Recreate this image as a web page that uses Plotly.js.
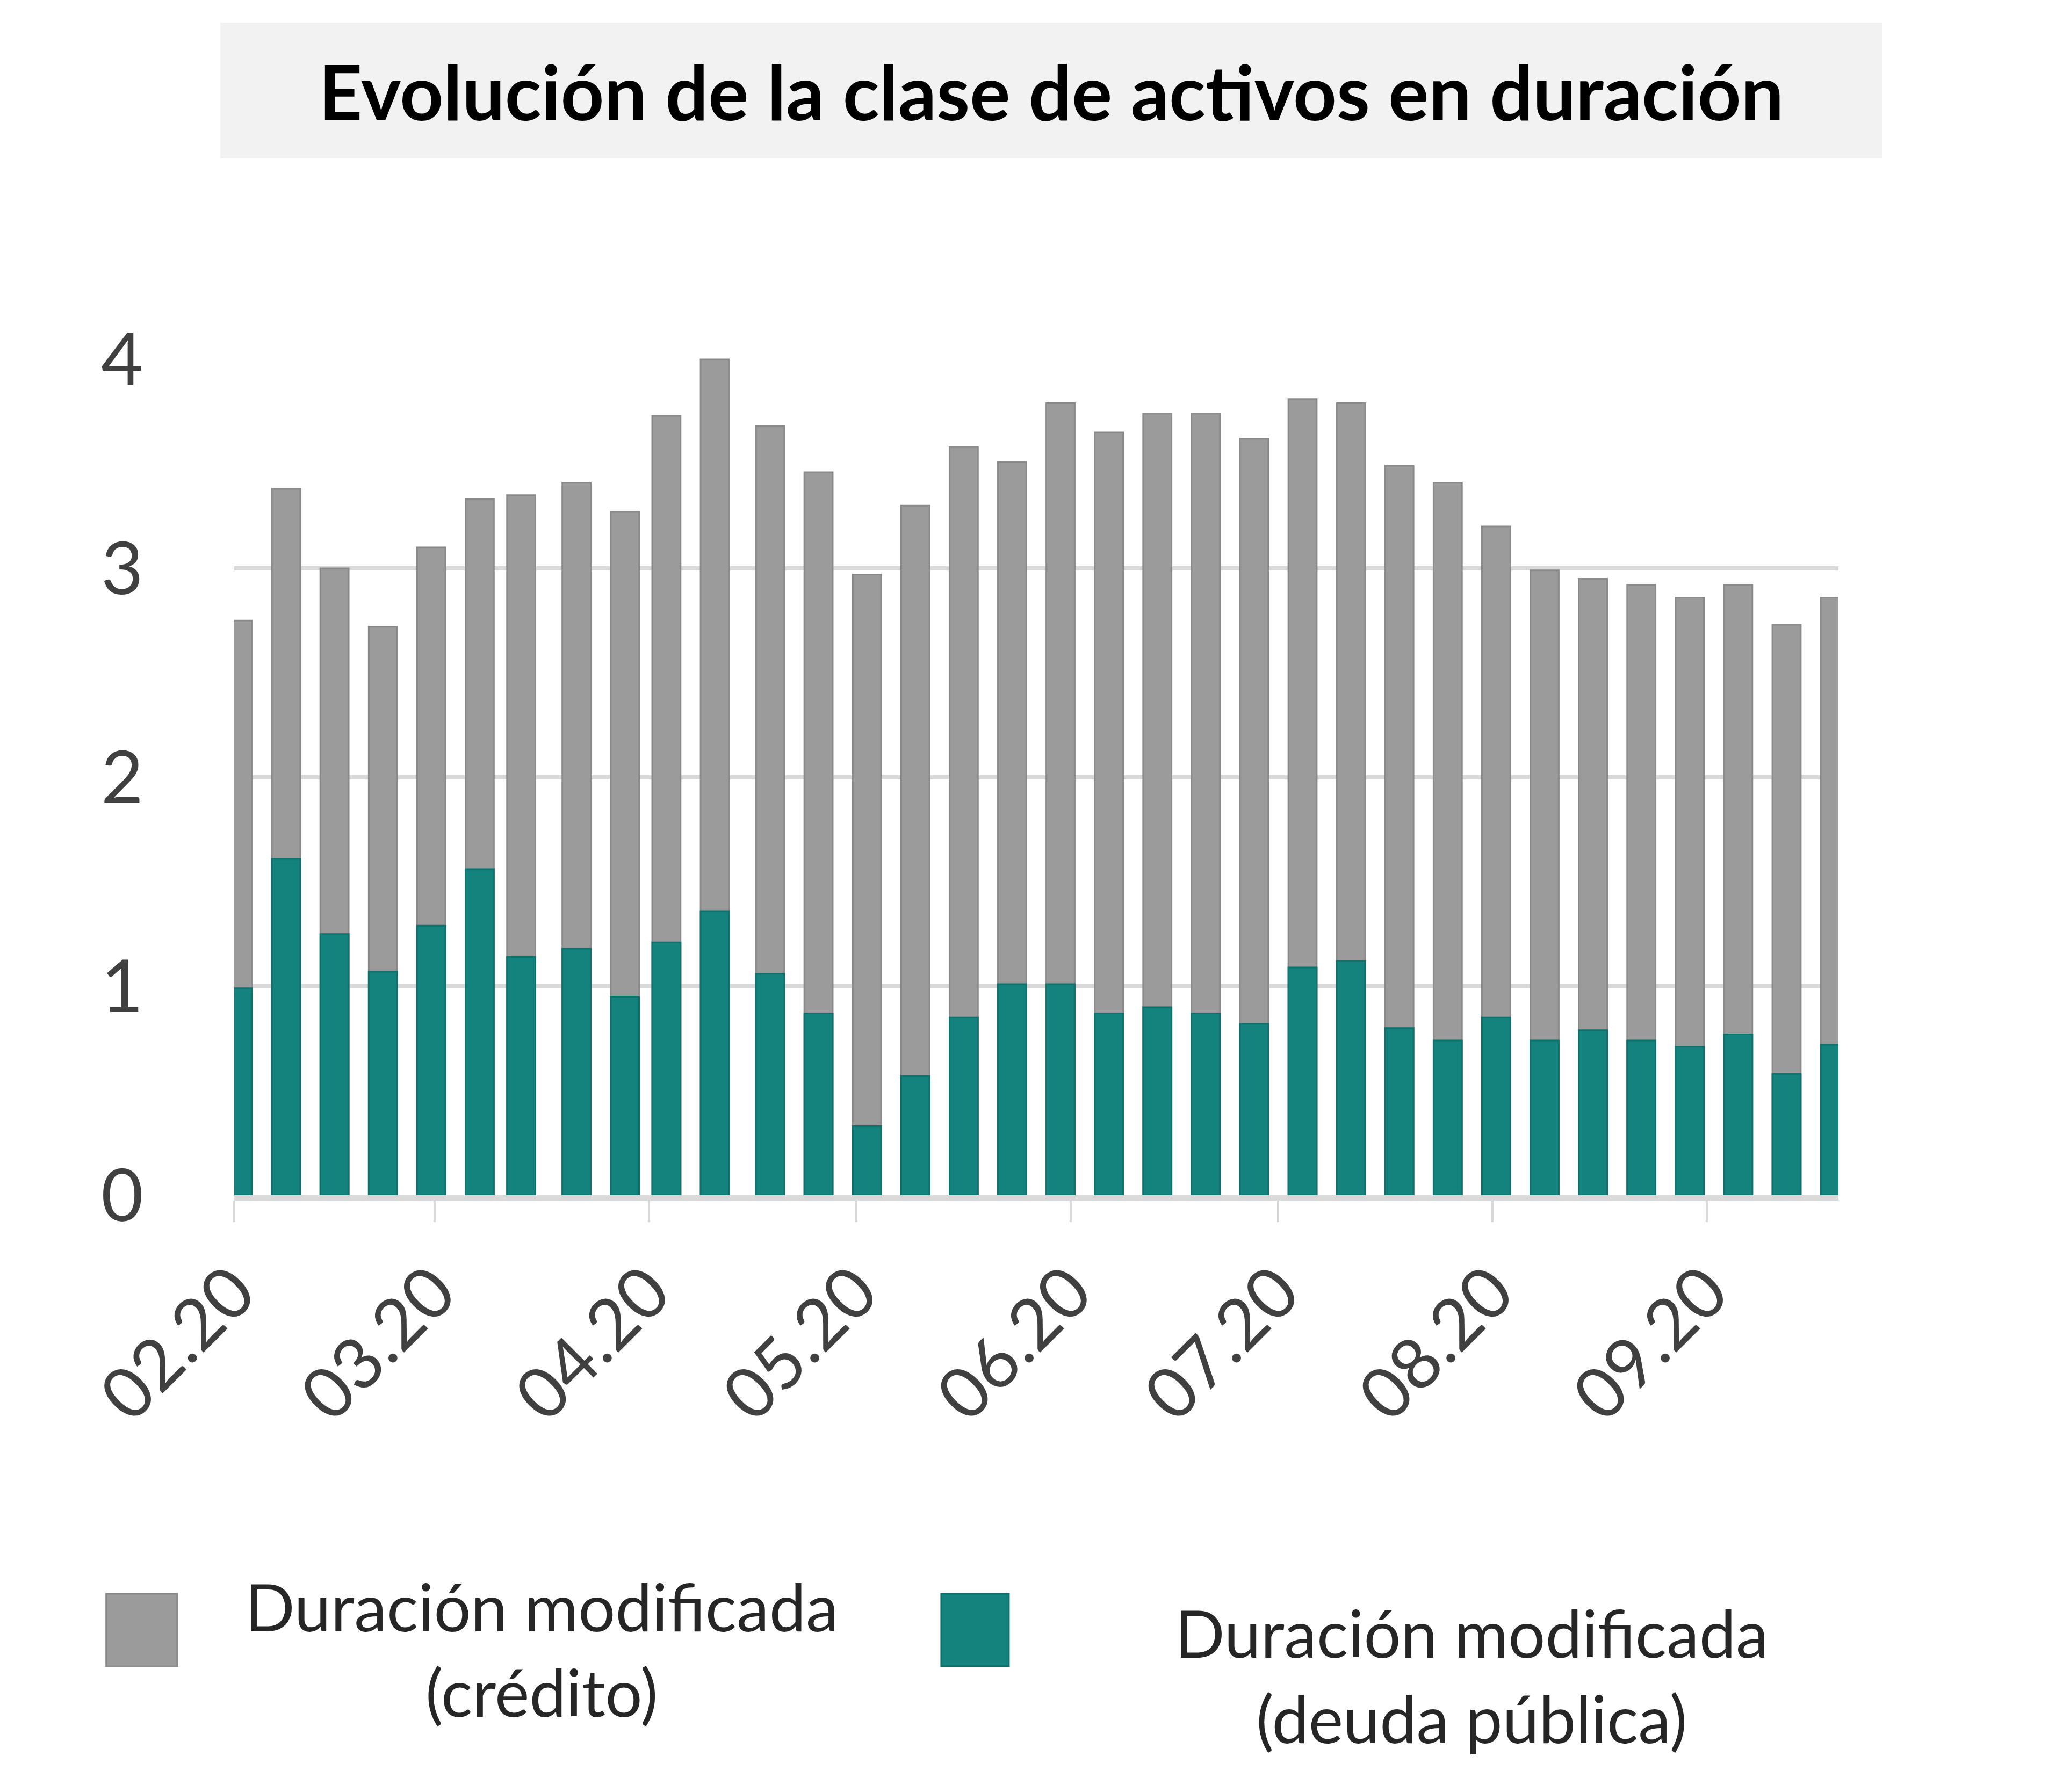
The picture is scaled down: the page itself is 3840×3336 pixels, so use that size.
<!DOCTYPE html>
<html>
<head>
<meta charset="utf-8">
<script src="https://cdn.plot.ly/plotly-3.0.1.min.js"></script>
<style>
  html, body { margin: 0; padding: 0; background: #ffffff; }
  #chart { width: 3840px; height: 3336px; }
</style>
</head>
<body>
<div id="chart"></div>
<script>
// ---- Data ----
const dates = [
  '2020-02-01', '2020-02-08', '2020-02-15', '2020-02-22', '2020-02-29',
  '2020-03-07', '2020-03-13', '2020-03-21', '2020-03-28', '2020-04-03',
  '2020-04-10', '2020-04-18', '2020-04-25', '2020-05-02', '2020-05-09',
  '2020-05-16', '2020-05-23', '2020-05-30', '2020-06-06', '2020-06-13',
  '2020-06-20', '2020-06-27', '2020-07-04', '2020-07-11', '2020-07-18',
  '2020-07-25', '2020-08-01', '2020-08-08', '2020-08-15', '2020-08-22',
  '2020-08-29', '2020-09-05', '2020-09-12', '2020-09-19'
];
const creditDuration = [
  2.75, 3.38, 3.00, 2.72, 3.10, 3.33, 3.35, 3.41, 3.27, 3.73,
  4.00, 3.68, 3.46, 2.97, 3.30, 3.58, 3.51, 3.79, 3.65, 3.74,
  3.74, 3.62, 3.81, 3.79, 3.49, 3.41, 3.20, 2.99, 2.95, 2.92,
  2.86, 2.92, 2.73, 2.86
];
const publicDebtDuration = [
  0.99, 1.61, 1.25, 1.07, 1.29, 1.56, 1.14, 1.18, 0.95, 1.21,
  1.36, 1.06, 0.87, 0.33, 0.57, 0.85, 1.01, 1.01, 0.87, 0.90,
  0.87, 0.82, 1.09, 1.12, 0.80, 0.74, 0.85, 0.74, 0.79, 0.74,
  0.71, 0.77, 0.58, 0.72
];
const seriesNames = [
  'Duración modificada<br>(crédito)',
  'Duración modificada<br>(deuda pública)'
];
const titleText = 'Evolución de la clase de activos en duración';
const yTickValues = [0, 1, 2, 3, 4];
const yGridValues = [1, 2, 3];
const xRange = ['2020-02-01', '2020-09-20'];

// ---- Styles ----
const GRAY = '#9b9b9b', GRAY_EDGE = '#8a8a8a';
const TEAL = '#14827d', TEAL_EDGE = '#0f716c';
const FONT = 'Lato, "Open Sans", sans-serif';
const DAY = 86400000;
const BAR_WIDTH = 4.1 * DAY;

const traces = [
  {
    type: 'bar', name: seriesNames[0], x: dates, y: creditDuration,
    xperiod: DAY, xperiodalignment: 'middle',
    width: BAR_WIDTH,
    marker: { color: GRAY, line: { color: GRAY_EDGE, width: 3 } },
    hoverinfo: 'x+y'
  },
  {
    type: 'bar', name: seriesNames[1], x: dates, y: publicDebtDuration,
    xperiod: DAY, xperiodalignment: 'middle',
    width: BAR_WIDTH,
    marker: { color: TEAL, line: { color: TEAL_EDGE, width: 3 } },
    hoverinfo: 'x+y'
  }
];

const layout = {
  width: 3840, height: 3336,
  paper_bgcolor: '#ffffff', plot_bgcolor: '#ffffff',
  margin: { l: 436, r: 418, t: 630, b: 1111, pad: 0 },
  barmode: 'overlay',
  showlegend: false,
  font: { family: FONT, color: '#404040' },
  title: {
    text: titleText,
    xref: 'container', x: 0.5096, xanchor: 'center',
    yref: 'container', y: 0.9475, yanchor: 'middle',
    font: { family: FONT, size: 141, color: '#000000', weight: 700 }
  },
  xaxis: {
    type: 'date', range: xRange,
    tickmode: 'linear', tick0: '2020-02-01', dtick: 'M1',
    tickformat: '%m.%y', tickangle: -45,
    ticks: 'outside', ticklen: 40, tickwidth: 4, tickcolor: '#d9d9d9',
    showline: true, linecolor: '#d9d9d9', linewidth: 10,
    showgrid: false, zeroline: false,
    tickfont: { family: FONT, size: 132, color: '#404040' },
    automargin: false, fixedrange: true
  },
  yaxis: {
    range: [0, 4.1],
    tickmode: 'array', tickvals: yTickValues,
    showgrid: false, zeroline: false, showline: false, ticks: '',
    ticklabelstandoff: 168,
    tickfont: { family: FONT, size: 136, color: '#404040' },
    minor: { tickmode: 'array', tickvals: yGridValues, showgrid: true,
             gridcolor: '#d9d9d9', gridwidth: 8, ticks: '' },
    automargin: false, fixedrange: true
  },
  shapes: [
    // title background box
    { type: 'rect', xref: 'paper', yref: 'paper', layer: 'below',
      x0: -0.0087, x1: 1.0275, y0: 1.2100, y1: 1.3687,
      fillcolor: '#f2f2f2', line: { width: 0 } },
    // legend swatches
    { type: 'rect', xref: 'paper', yref: 'paper',
      x0: -0.0798, x1: -0.0356, y0: -0.5498, y1: -0.4652,
      fillcolor: GRAY, line: { color: GRAY_EDGE, width: 3 } },
    { type: 'rect', xref: 'paper', yref: 'paper',
      x0: 0.4407, x1: 0.4829, y0: -0.5498, y1: -0.4652,
      fillcolor: TEAL, line: { color: TEAL_EDGE, width: 3 } }
  ],
  annotations: [
    { xref: 'paper', yref: 'paper', x: 0.1916, y: -0.5292,
      xanchor: 'center', yanchor: 'middle', align: 'center', showarrow: false,
      text: seriesNames[0], font: { family: FONT, size: 122, color: '#262626' } },
    { xref: 'paper', yref: 'paper', x: 0.7716, y: -0.5602,
      xanchor: 'center', yanchor: 'middle', align: 'center', showarrow: false,
      text: seriesNames[1], font: { family: FONT, size: 122, color: '#262626' } }
  ]
};

Plotly.newPlot('chart', traces, layout, { displayModeBar: false, staticPlot: true });
</script>
</body>
</html>
